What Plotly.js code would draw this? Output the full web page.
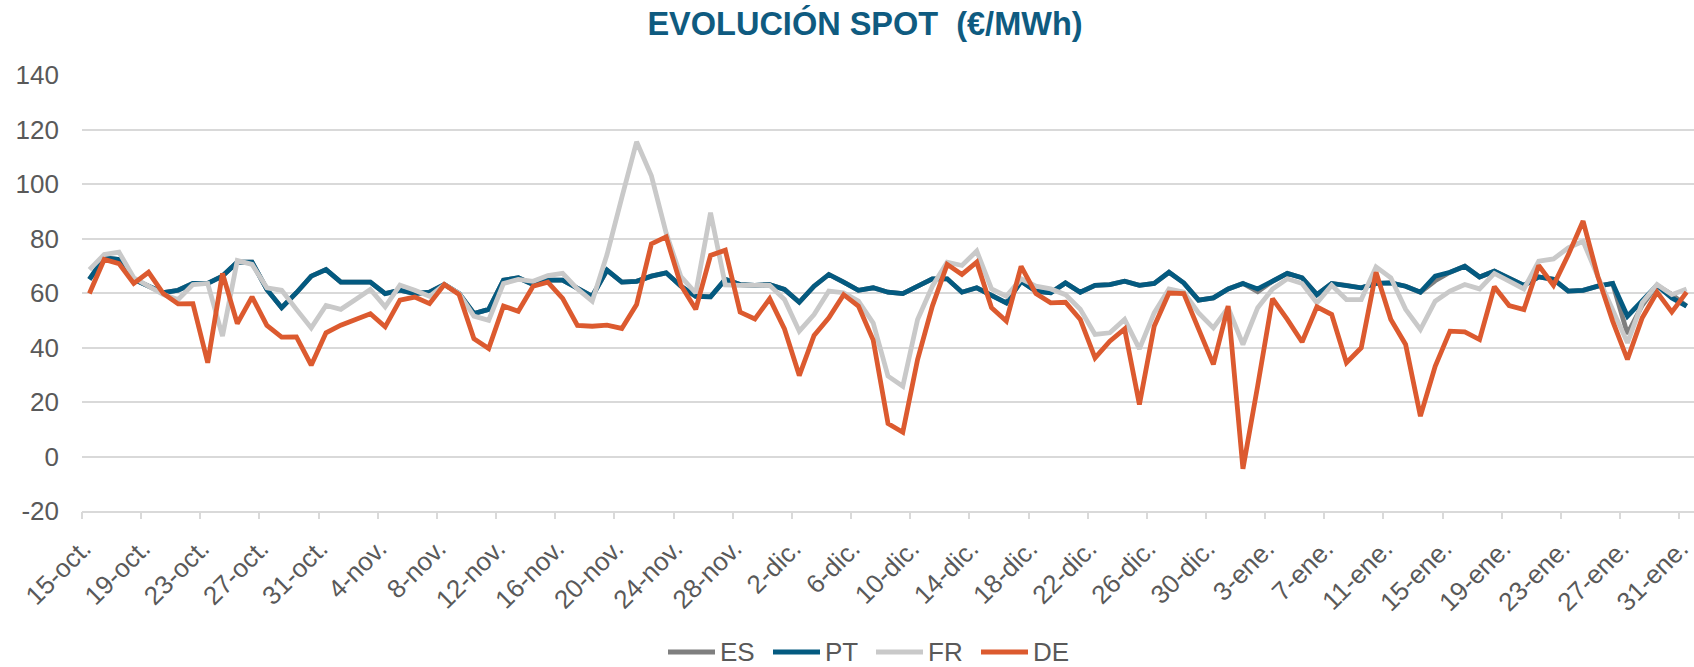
<!DOCTYPE html>
<html><head><meta charset="utf-8">
<script src="https://cdn.plot.ly/plotly-3.0.1.min.js"></script>
<style>html,body{margin:0;padding:0;background:#fff}#chart{width:1694px;height:667px}</style>
</head><body><div id="chart"></div>
<script>
// Categories: daily, 15-oct. to 31-ene.
const monthNames = ['ene.','feb.','mar.','abr.','may.','jun.','jul.','ago.','sep.','oct.','nov.','dic.'];
const days = [];
(function(){ const d = new Date(Date.UTC(2023, 9, 15)); for (let i = 0; i < 109; i++) { days.push(d.getUTCDate() + '-' + monthNames[d.getUTCMonth()]); d.setUTCDate(d.getUTCDate() + 1); } })();

const tickLabels = ['15-oct.','19-oct.','23-oct.','27-oct.','31-oct.','4-nov.','8-nov.','12-nov.','16-nov.','20-nov.','24-nov.','28-nov.','2-dic.','6-dic.','10-dic.','14-dic.','18-dic.','22-dic.','26-dic.','30-dic.','3-ene.','7-ene.','11-ene.','15-ene.','19-ene.','23-ene.','27-ene.','31-ene.'];
const yTicks = [-20, 0, 20, 40, 60, 80, 100, 120, 140];
const yTickText = ['-20', '0', '20', '40', '60', '80', '100', '120', '140'];

const PT = [65,72.9,72.3,65,62.5,60.1,61,63.5,63.5,66.2,71.3,71.3,61.3,54.6,60.1,66.2,68.6,64,64,64,59.8,61,59.8,60.3,63.1,59.8,52.5,54,64.7,65.6,63.1,64.7,64.7,61.5,58.8,68.4,64,64.3,66.2,67.4,62.5,58.8,58.6,65,63.1,62.8,63.1,61.3,56.6,62.5,66.8,64,61,61.9,60.3,59.8,62.5,65.2,65.2,60.3,61.9,59.1,56.4,64.3,60.7,60.1,63.7,60.3,62.8,63.1,64.3,62.8,63.5,67.6,63.7,57.4,58.2,61.5,63.5,61.5,64.3,67.2,65.6,59.4,63.5,62.8,61.9,63.5,63.7,62.5,60.3,66.2,67.6,69.8,65.9,68,65.6,62.8,65.9,65,60.7,61,62.5,63.5,51.5,57,62.8,58.2,55.2];
const ES = [65,72.9,72.3,65,62.5,60.1,61,63.5,63.5,66.2,71.3,71.3,61.3,54.6,60.1,66.2,68.6,64,64,64,59.8,61,59.8,60.3,63.1,59.8,52.5,54,64.7,65.6,63.1,64.7,64.7,61.5,58.8,68.4,64,64.3,66.2,67.4,62.5,58.8,58.6,65,63.1,62.8,63.1,61.3,56.6,62.5,66.8,64,61,61.9,60.3,59.8,62.5,65.2,65.2,60.3,61.9,59.1,56.4,64.3,60.7,60.1,63.7,60.3,62.8,63.1,64.3,62.8,63.5,67.6,63.7,57.4,58.2,61.5,63.5,60.5,64.3,67.2,65.6,59.4,63.5,62.8,61.9,63.5,63.7,62.5,60.3,64.5,67.6,69.8,65.9,68,65.6,62.8,65.9,65,60.7,61,62.5,63.5,45,55.5,62.8,59.5,55.2];
const FR = [68.6,74.1,75,65.6,62.5,59.4,57.6,63.1,63.5,44.2,71.9,70.5,61.9,61,54,47.2,55.4,54,57.6,61.3,54.9,62.9,61,58.8,63.1,59.8,51.5,50,63.5,65,64.3,66.4,67.2,61.5,57,74.1,95,115.5,103,82,66,60,89.5,63,62.8,62.8,62.8,57.6,46,52.1,60.7,60.1,57,49,29.5,25.8,50.3,62.5,71.3,70.1,75.4,61.5,58.8,65.2,62.5,61.5,59.4,54,44.8,45.4,50.3,39.5,52.7,61.5,60.3,52.7,47.2,54.6,41.1,54.6,61.5,65.2,63.5,56.4,62.8,57.6,57.6,69.6,65.6,54,46.6,57,60.7,63.1,61.5,67.2,64.3,61.5,71.7,72.5,76.6,79,66,54,41.7,56.4,63.1,59.4,61.5];
const DE = [59.8,72.3,70.8,63.5,67.6,59.8,56,56.1,34.4,67.2,48.8,58.6,48.1,43.8,43.9,33.5,45.4,48.2,50.3,52.4,47.6,57.4,58.5,56.1,63.1,59.4,43.2,39.6,55.2,53.3,62.5,64,58,48.1,47.8,48.2,47,55.8,78,80.6,62.8,54,73.8,75.7,53,50.5,57.9,46.8,29.7,44.4,50.9,59.4,55.2,42.7,12.1,8.9,35.6,55.2,70.5,66.8,71.3,54.6,49.7,69.8,59.8,56.4,56.6,50.3,36.2,42.3,46.8,19.1,47.8,60,59.8,47,33.8,55.2,-4.5,26,57.9,50.3,42,54.9,52.1,34.4,39.9,67.6,50.3,41.1,14.8,33.1,46,45.7,42.9,62.3,55.4,53.9,70.1,62.8,74,86.4,66,49.7,35.6,50.9,60.3,53,60.3];

const xIdx = days.map((_, i) => i);
const tickVals = tickLabels.map(l => days.indexOf(l) - 0.4);
const boundaryVals = tickLabels.map(l => days.indexOf(l) - 0.5);

const series = [
  {name: 'ES', y: ES, color: '#7F7F7F'},
  {name: 'PT', y: PT, color: '#045A80'},
  {name: 'FR', y: FR, color: '#C9C9C9'},
  {name: 'DE', y: DE, color: '#DC5A2F'}
];

const traces = series.map(s => ({
  type: 'scatter', mode: 'lines', name: s.name, x: xIdx, y: s.y,
  line: {color: s.color, width: 4.8}, hoverinfo: 'skip', showlegend: false
}));
traces.push({type: 'scatter', mode: 'lines', x: [-0.5], y: [null], xaxis: 'x2', showlegend: false, hoverinfo: 'skip'});

// Custom legend (pixel layout converted to paper coords)
const PL = 82, PW = 1612, PB = 511, PH = 436;
const px = v => (v - PL) / PW, py = v => (PB - v) / PH;
const legendY = 652;
const legendStart = [668, 773, 876, 981];
const shapes = [], annotations = [];
series.forEach((s, k) => {
  const x0 = legendStart[k];
  shapes.push({type: 'line', xref: 'paper', yref: 'paper', x0: px(x0), x1: px(x0 + 47), y0: py(legendY), y1: py(legendY),
    line: {color: s.color, width: 5}});
  annotations.push({xref: 'paper', yref: 'paper', x: px(x0 + 50), y: py(legendY), xanchor: 'left', yanchor: 'middle',
    text: s.name, showarrow: false, font: {family: '"Liberation Sans", Arial, sans-serif', size: 26, color: '#595959'}});
});

const fontFam = '"Liberation Sans", Arial, sans-serif';
const layout = {
  width: 1694, height: 667,
  margin: {l: 82, r: 0, t: 75, b: 156},
  paper_bgcolor: '#ffffff', plot_bgcolor: '#ffffff',
  font: {family: fontFam, size: 26, color: '#595959'},
  title: {
    text: '<b>EVOLUCIÓN SPOT \u00a0(€/MWh)</b>',
    font: {family: fontFam, size: 32.5, color: '#0F5B80'},
    x: 865 / 1694, xref: 'container', xanchor: 'center',
    y: 1 - 24 / 667, yref: 'container', yanchor: 'middle'
  },
  showlegend: false,
  shapes: shapes, annotations: annotations,
  xaxis: {
    type: 'linear', range: [-0.5, 108.5], fixedrange: true,
    tickmode: 'array', tickvals: tickVals, ticktext: tickLabels,
    tickangle: -45, ticks: '', showgrid: false, zeroline: false,
    showline: true, linecolor: '#D9D9D9', linewidth: 2,
    ticklabelstandoff: 10, ticklabeloverflow: 'allow',
    tickfont: {family: fontFam, size: 26, color: '#595959'}
  },
  xaxis2: {
    type: 'linear', range: [-0.5, 108.5], overlaying: 'x', anchor: 'y', side: 'bottom',
    tickmode: 'array', tickvals: boundaryVals, ticks: 'outside', ticklen: 7, tickwidth: 2,
    tickcolor: '#D9D9D9', showticklabels: false, showgrid: false, zeroline: false, showline: false
  },
  yaxis: {
    range: [-20, 140], tickmode: 'array', tickvals: yTicks, ticktext: yTickText, ticks: '',
    showgrid: true, gridcolor: '#D9D9D9', gridwidth: 2, zeroline: false,
    showline: false, ticklabelstandoff: 22, fixedrange: true,
    tickfont: {family: fontFam, size: 26, color: '#595959'}
  },
  hovermode: false
};

Plotly.newPlot('chart', traces, layout, {displayModeBar: false, staticPlot: true});
</script>
</body></html>
